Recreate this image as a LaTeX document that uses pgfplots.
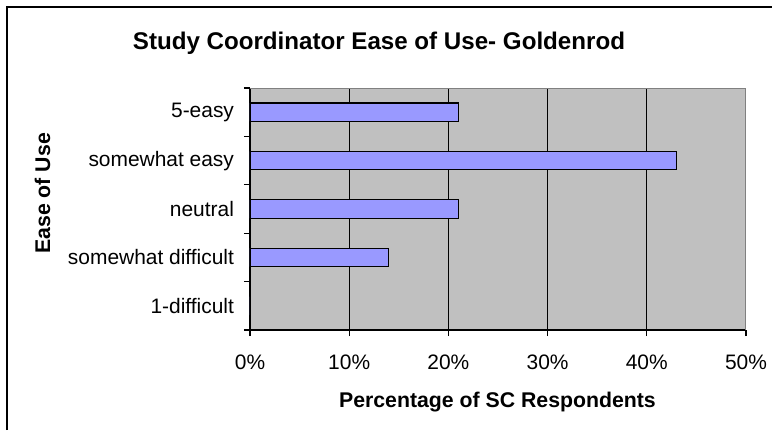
\documentclass[border=0pt]{standalone}
\usepackage{pgfplots}
\pgfplotsset{compat=1.18}
\usepackage{fontspec}
\setmainfont{Liberation Sans}

\definecolor{plotbg}{HTML}{C0C0C0}
\definecolor{barfill}{HTML}{9999FF}
\definecolor{edgegray}{HTML}{808080}

\newcommand{\tickfont}{\fontsize{15.7}{18}\selectfont}
\newcommand{\labelfont}{\fontsize{15.95}{19}\selectfont\bfseries}
\newcommand{\titlefont}{\fontsize{18.1}{21}\selectfont\bfseries}

\begin{document}
\begin{tikzpicture}
\useasboundingbox (0,0) rectangle (579pt,322.5pt);
% outer chart frame (only top and left visible in the crop)
\draw[black, line width=1.3pt] (5.25pt,0) -- (5.25pt,317.25pt) -- (579pt,317.25pt);
\begin{axis}[
  at={(187.5pt,75pt)}, anchor=south west,
  scale only axis,
  width=372pt, height=181.5pt,
  xbar, bar width=0.382,
  xmin=0, xmax=50,
  ymin=-0.5, ymax=4.5,
  axis x line*=bottom, axis y line*=left,
  axis line style={black, line width=0.9pt, -},
  axis background/.style={fill=plotbg},
  xtick={0,10,...,50},
  xticklabel={\pgfmathprintnumber{\tick}\%},
  xmajorgrids, grid style={black, line width=0.75pt},
  major x tick style={black, line width=0.9pt},
  major tick length=4.5pt,
  tick align=outside,
  ytick={0,1,2,3,4},
  yticklabels={1-difficult, somewhat difficult, neutral, somewhat easy, 5-easy},
  major y tick style={draw=none},
  minor ytick={-0.5,0.5,1.5,2.5,3.5,4.5},
  minor tick length=4.5pt,
  minor y tick style={black, line width=0.9pt},
  /pgf/number format/assume math mode=true,
  tick label style={font=\tickfont},
  xticklabel style={anchor=base, yshift=-25pt},
  yticklabel style={anchor=east, xshift=-4pt},
  title={Study Coordinator Ease of Use- Goldenrod},
  every axis title/.style={at={(axis description cs:0.26,1.16)}, anchor=base, font=\titlefont},
  xlabel={Percentage of SC Respondents},
  every axis x label/.style={at={(axis description cs:0.499,-0.322)}, anchor=base, font=\labelfont},
  ylabel={Ease of Use},
  every axis y label/.style={at={(axis description cs:-0.403,0.565)}, anchor=base, rotate=90, font=\labelfont},
]
\addplot[fill=barfill, draw=black, line width=0.9pt] coordinates {
  (0,0) (14,1) (21,2) (43,3) (21,4)
};
\draw[edgegray, line width=0.9pt] (rel axis cs:0,1) -- (rel axis cs:1,1) -- (rel axis cs:1,0);
\end{axis}
\end{tikzpicture}
\end{document}
